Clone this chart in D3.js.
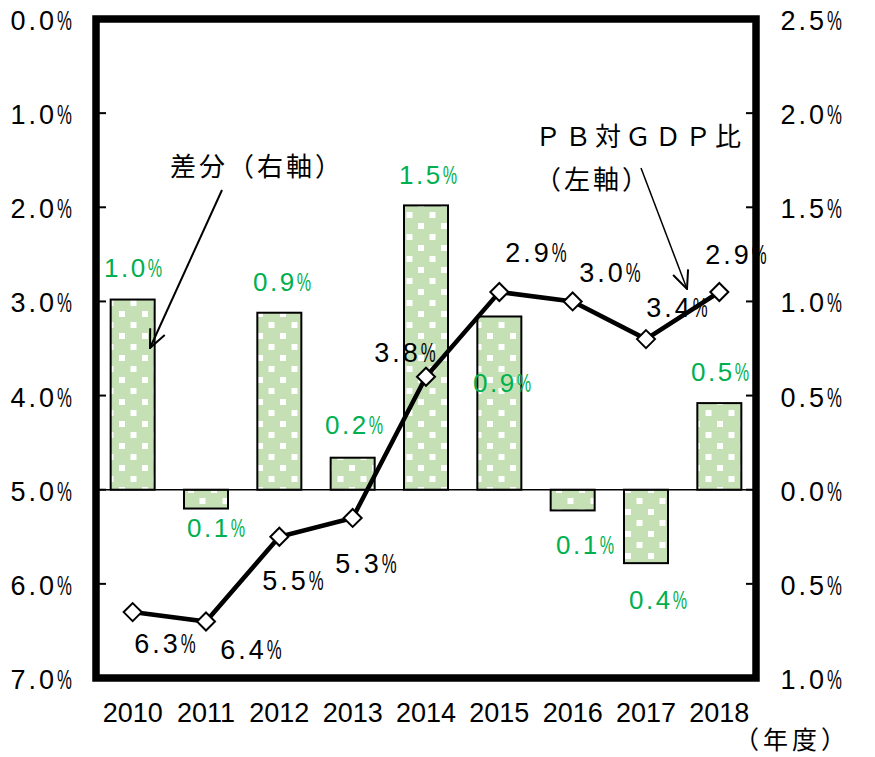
<!DOCTYPE html>
<html>
<head>
<meta charset="utf-8">
<script src="https://cdn.jsdelivr.net/npm/d3@7/dist/d3.min.js"></script>
<style>
  body { margin: 0; background: #fff; }
  text { font-family: "Liberation Sans", Arial, sans-serif; }
  .jp { font-family: "Noto Sans CJK JP", sans-serif; }
</style>
</head>
<body>
<div id="chart"></div>
<script>
// Data
const years = ["2010", "2011", "2012", "2013", "2014", "2015", "2016", "2017", "2018"];
const pbRatio = [6.3, 6.4, 5.5, 5.3, 3.8, 2.9, 3.0, 3.4, 2.9];       // left axis (inverted)
const diffValues = [1.01, -0.1, 0.94, 0.17, 1.51, 0.92, -0.11, -0.39, 0.46]; // right axis
const diffLabels = ["1.0", "0.1", "0.9", "0.2", "1.5", "0.9", "0.1", "0.4", "0.5"];
const pbLabels = ["6.3", "6.4", "5.5", "5.3", "3.8", "2.9", "3.0", "3.4", "2.9"];
const leftTicks = [0, 1, 2, 3, 4, 5, 6, 7];
const rightTicks = [2.5, 2.0, 1.5, 1.0, 0.5, 0.0, -0.5, -1.0];

// Chart box
const W = 875, H = 757;
const plot = {left: 96, right: 756, top: 19, bottom: 678};

const svg = d3.select("#chart").append("svg")
  .attr("width", W).attr("height", H);

// Dotted pattern for bars
const defs = svg.append("defs");
const pat = defs.append("pattern")
  .attr("id", "dots")
  .attr("patternUnits", "userSpaceOnUse")
  .attr("x", 110).attr("y", 0)
  .attr("width", 23).attr("height", 22);
pat.append("rect").attr("width", 23).attr("height", 22).attr("fill", "#c5e0b4");
pat.append("rect").attr("x", 9).attr("y", 3).attr("width", 6).attr("height", 6).attr("fill", "#fff");
pat.append("rect").attr("x", -2.5).attr("y", 14).attr("width", 6).attr("height", 6).attr("fill", "#fff");
pat.append("rect").attr("x", 20.5).attr("y", 14).attr("width", 6).attr("height", 6).attr("fill", "#fff");

const arrow = defs.append("marker")
  .attr("id", "arr")
  .attr("viewBox", "0 0 20 20")
  .attr("refX", 19).attr("refY", 10)
  .attr("markerWidth", 20).attr("markerHeight", 20)
  .attr("markerUnits", "userSpaceOnUse")
  .attr("orient", "auto");
arrow.append("path")
  .attr("d", "M1,2 L19,10 L1,18")
  .attr("fill", "none").attr("stroke", "#000").attr("stroke-width", 2);

// Scales
const x = d3.scaleBand().domain(years).range([plot.left, plot.right]).paddingInner(0.4).paddingOuter(0.2);
const xc = d => x(d) + x.bandwidth() / 2;
const yL = d3.scaleLinear().domain([0, 7]).range([plot.top, plot.bottom]);
const yR = d3.scaleLinear().domain([-1, 2.5]).range([plot.bottom, plot.top]);

// Number + narrow "%" label helper; anchor is "start", "middle" or "end"
function pctLabel(px, py, num, size, spacing, color, anchor) {
  const g = svg.append("g");
  const t = g.append("text")
    .attr("font-size", size).attr("letter-spacing", spacing)
    .attr("fill", color).text(num);
  const w = t.node().getComputedTextLength();
  const sx = 0.62;
  const p = g.append("text")
    .attr("font-size", size).attr("fill", color)
    .attr("transform", `translate(${w},0) scale(${sx},1)`)
    .text("%");
  const total = w + p.node().getComputedTextLength() * sx;
  const dx = anchor === "end" ? -total : anchor === "middle" ? -total / 2 : 0;
  g.attr("transform", `translate(${px + dx},${py})`);
}

// Bars
svg.selectAll("rect.bar")
  .data(diffValues)
  .enter().append("rect")
    .attr("class", "bar")
    .attr("x", (d, i) => x(years[i]))
    .attr("width", x.bandwidth())
    .attr("y", d => yR(Math.max(0, d)))
    .attr("height", d => Math.abs(yR(d) - yR(0)))
    .attr("fill", "url(#dots)")
    .attr("stroke", "#000").attr("stroke-width", 2);

// Zero line
svg.append("line")
  .attr("x1", plot.left).attr("x2", plot.right)
  .attr("y1", yR(0)).attr("y2", yR(0))
  .attr("stroke", "#000").attr("stroke-width", 1.5);

// Line series
const line = d3.line().x((d, i) => xc(years[i])).y(d => yL(d));
svg.append("path")
  .datum(pbRatio)
  .attr("d", line)
  .attr("fill", "none").attr("stroke", "#000").attr("stroke-width", 4.5);

svg.selectAll("path.mk")
  .data(pbRatio)
  .enter().append("path")
    .attr("class", "mk")
    .attr("d", "M0,-9 L9,0 L0,9 L-9,0 Z")
    .attr("transform", (d, i) => `translate(${xc(years[i])},${yL(d)})`)
    .attr("fill", "#fff").attr("stroke", "#000").attr("stroke-width", 2);

// Frame
svg.append("rect")
  .attr("x", plot.left).attr("y", plot.top)
  .attr("width", plot.right - plot.left).attr("height", plot.bottom - plot.top)
  .attr("fill", "none").attr("stroke", "#000").attr("stroke-width", 7.5);

// Left axis ticks + labels
svg.selectAll("line.lt")
  .data(leftTicks).enter().append("line")
    .attr("x1", plot.left).attr("x2", plot.left + 10)
    .attr("y1", d => yL(d)).attr("y2", d => yL(d))
    .attr("stroke", "#000").attr("stroke-width", 2);
leftTicks.forEach(d => pctLabel(72, yL(d) + 11, d3.format(".1f")(d), 27, 3, "#000", "end"));

// Right axis ticks + labels
svg.selectAll("line.rt")
  .data(rightTicks).enter().append("line")
    .attr("x1", plot.right - 10).attr("x2", plot.right)
    .attr("y1", d => yR(d)).attr("y2", d => yR(d))
    .attr("stroke", "#000").attr("stroke-width", 2);
rightTicks.forEach(d => pctLabel(842, yR(d) + 11, d3.format(".1f")(Math.abs(d)), 27, 3, "#000", "end"));

// X labels
svg.selectAll("text.xl")
  .data(years).enter().append("text")
    .attr("x", d => xc(d)).attr("y", 722)
    .attr("text-anchor", "middle")
    .attr("font-size", 27)
    .text(d => d);
svg.append("text").attr("class", "jp")
  .attr("x", 734).attr("y", 749)
  .attr("font-size", 25).attr("letter-spacing", 4)
  .text("（年度）");

// Bar value labels (green)
const diffLabelPos = [[133, 277], [216, 537], [282, 291], [354, 434], [428, 184], [502, 392], [585, 554], [658, 609], [720, 381]];
diffLabels.forEach((d, i) => pctLabel(diffLabelPos[i][0], diffLabelPos[i][1], d, 26, 2.5, "#00b050", "middle"));

// Line value labels
const pbLabelPos = [[165, 653], [251, 659], [293, 590], [366, 573], [405, 362], [536, 262], [610, 282], [677, 317], [736, 264]];
pbLabels.forEach((d, i) => pctLabel(pbLabelPos[i][0], pbLabelPos[i][1], d, 27, 3, "#000", "middle"));

// Annotations
svg.append("text").attr("class", "jp")
  .attr("x", 170).attr("y", 176)
  .attr("font-size", 26).attr("letter-spacing", 3)
  .text("差分（右軸）");
svg.append("line")
  .attr("x1", 222).attr("y1", 190).attr("x2", 150).attr("y2", 348)
  .attr("stroke", "#000").attr("stroke-width", 2)
  .attr("marker-end", "url(#arr)");

svg.append("text").attr("class", "jp")
  .attr("x", 535).attr("y", 146)
  .attr("font-size", 26).attr("letter-spacing", 4)
  .text("ＰＢ対ＧＤＰ比");
svg.append("text").attr("class", "jp")
  .attr("x", 535).attr("y", 189)
  .attr("font-size", 26).attr("letter-spacing", 3)
  .text("（左軸）");
svg.append("line")
  .attr("x1", 641).attr("y1", 168).attr("x2", 687).attr("y2", 289)
  .attr("stroke", "#000").attr("stroke-width", 1.5)
  .attr("marker-end", "url(#arr)");
</script>
</body>
</html>
